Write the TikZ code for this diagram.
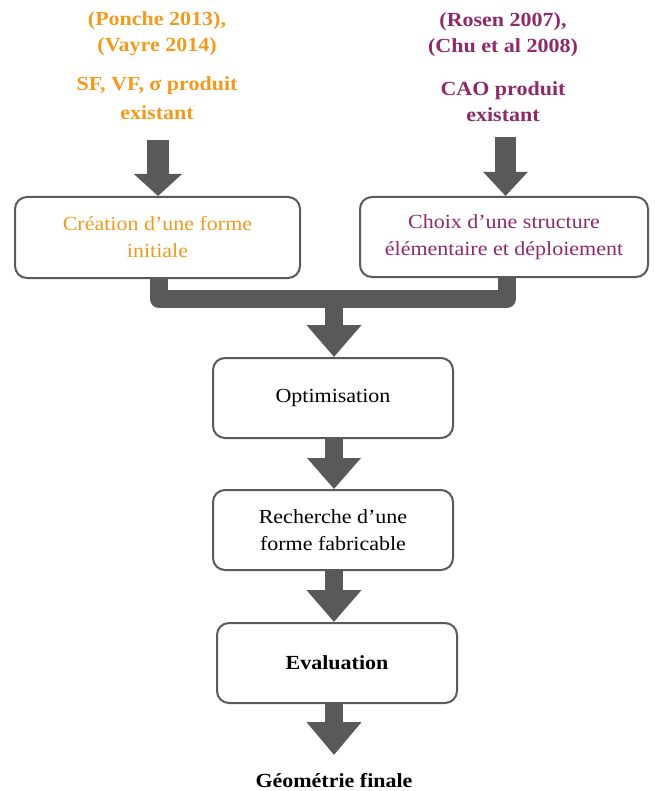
\documentclass[tikz,border=0pt]{standalone}
\usepackage{fontspec}
\setmainfont[FakeStretch=1.1]{Liberation Serif}
\usetikzlibrary{arrows.meta}
\definecolor{orng}{HTML}{F39A1E}
\definecolor{purp}{HTML}{8E2A6A}
\definecolor{arrgray}{HTML}{595959}
\definecolor{boxgray}{HTML}{5A5A5A}
\tikzset{
  stepbox/.style={draw=boxgray, line width=2pt, rounded corners=12pt, fill=white,
    minimum width=240pt, minimum height=80pt, align=center, inner sep=0pt,
    font=\fontsize{20}{27}\selectfont},
  reflabel/.style={anchor=base, inner sep=0pt, font=\bfseries\fontsize{20}{24}\selectfont},
  bigarrow/.style={draw=arrgray, line width=18pt,
    -{Triangle[width=53pt,length=32pt]}},
}
\begin{document}
\begin{tikzpicture}[x=1pt,y=-1pt]
\useasboundingbox (0,0) rectangle (654,791);
% top labels
\node[reflabel, text=orng] (l1) at (157,26) {(Ponche 2013),};
\node[reflabel, text=orng] (l2) at (157,52) {(Vayre 2014)};
\node[reflabel, text=orng] (l3) at (157,91) {SF, VF, σ produit};
\node[reflabel, text=orng] (l4) at (157,120) {existant};
\node[reflabel, text=purp] (r1) at (503,27) {(Rosen 2007),};
\node[reflabel, text=purp] (r2) at (503,53) {(Chu et al 2008)};
\node[reflabel, text=purp] (r3) at (503,96) {CAO produit};
\node[reflabel, text=purp] (r4) at (503,122) {existant};
% boxes
\node[stepbox, text=orng, minimum width=285pt, minimum height=81pt] (b1) at (157.5,237.5) {Création d’une forme\\initiale};
\node[stepbox, text=purp, minimum width=288pt, minimum height=80pt] (b2) at (504,237) {Choix d’une structure\\élémentaire et déploiement};
\node[stepbox] (opt) at (333,398) {Optimisation};
\node[stepbox] (rech) at (333,530) {Recherche d’une\\forme fabricable};
\node[stepbox] (eval) at (337,663) {\bfseries Evaluation};
\node[anchor=base, inner sep=0pt, font=\bfseries\fontsize{20}{24}\selectfont] (fin) at (334,787) {Géométrie finale};
% input arrows
\coordinate (s1) at (158,140);
\coordinate (s2) at (505.5,137);
\draw[draw=arrgray, line width=22pt, -{Triangle[width=47pt,length=22pt]}] (s1) -- (s1 |- b1.north);
\draw[draw=arrgray, line width=21pt, -{Triangle[width=43pt,length=24pt]}] (s2) -- (s2 |- b2.north);
% bracket
\coordinate (j1) at (159,299);
\coordinate (j2) at (506.5,299);
\coordinate (jm) at (334,299);
\draw[arrgray, line width=18pt, line join=round] (b1.south -| j1) -- (j1) -- (j2) -- (b2.south -| j2);
% chain arrows
\draw[bigarrow] (jm) -- (jm |- opt.north);
\draw[bigarrow, -{Triangle[width=52pt,length=31pt]}] (opt.south -| jm) -- (jm |- rech.north);
\draw[bigarrow] (rech.south -| jm) -- (jm |- eval.north);
\coordinate (tipend) at (334,755);
\draw[bigarrow, -{Triangle[width=53pt,length=33pt]}] (eval.south -| jm) -- (tipend);
\end{tikzpicture}
\end{document}
